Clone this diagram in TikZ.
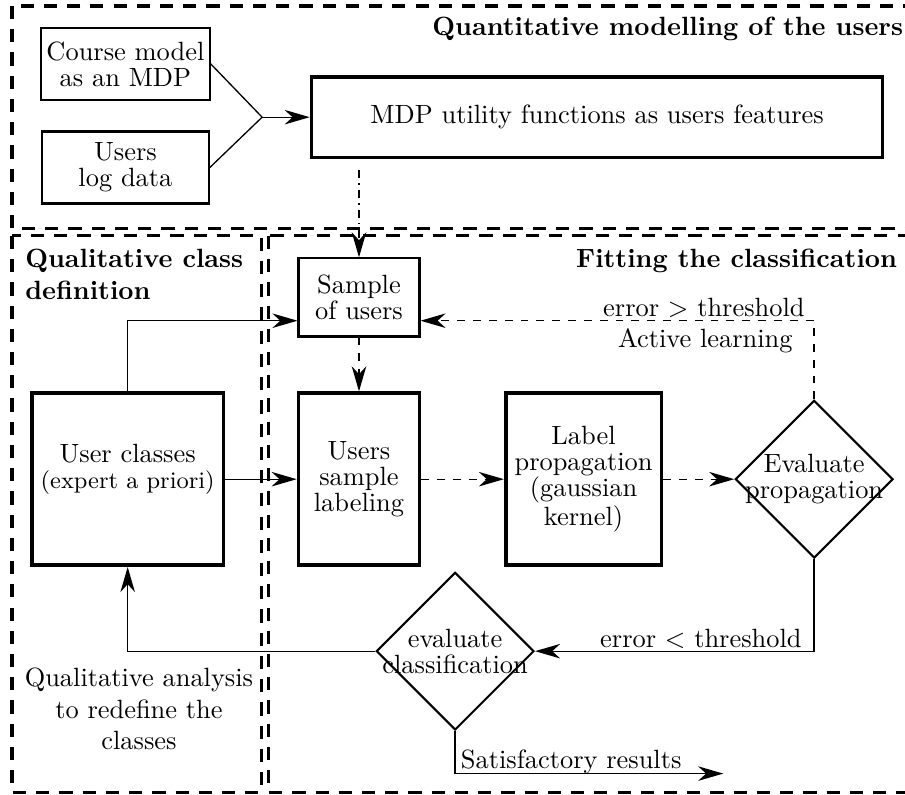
\documentclass[tikz,border=0pt]{standalone}
\usepackage{tikz}
\usetikzlibrary{arrows.meta, positioning, shapes.geometric}
\tikzset{
  region/.style={draw, line width=1.2pt, dash pattern=on 5pt off 3.8pt},
  title/.style={font=\bfseries, inner sep=0pt},
  smallbox/.style={draw, line width=0.8pt, align=center, inner sep=2pt, font=\linespread{0.82}\selectfont},
  bigbox/.style={draw, line width=1.4pt, align=center, minimum height=2.29cm, font=\linespread{0.82}\selectfont},
  decision/.style={draw, diamond, line width=0.8pt, align=center, inner sep=-3.5pt, minimum width=2.1cm, minimum height=2.1cm, font=\linespread{0.82}\selectfont},
  flow/.style={->, line width=0.5pt},
  note/.style={inner sep=0pt}
}

\begin{document}
\begin{tikzpicture}[>={Stealth[length=9.5pt, width=5.5pt, inset=3pt]}]
    \path[use as bounding box, clip] (0,0) rectangle (12.05,-10.58);
    \draw[region] (0.16,-0.08) rectangle (12.5,-3.04);
    \draw[region] (0.16,-3.14) rectangle (3.48,-10.55);
    \draw[region] (3.57,-3.14) rectangle (12.5,-10.55);
    \node[title, anchor=base east] (quanti) at (12.03,-0.47) {Quantitative modelling of the users};
    \node[title, anchor=north west, align=left] (quali) at (0.33,-3.31) {Qualitative class\\definition};
    \node[title, anchor=base east] (fitting) at (11.95,-3.56) {Fitting the classification};

    \node[smallbox, minimum width=2.22cm, minimum height=0.96cm] (course) at (1.67,-0.85) {Course model\\as an MDP};
    \node[smallbox, minimum width=2.22cm, minimum height=0.96cm] (logs) at (1.67,-2.23) {Users\\log data};
    \coordinate (merge) at (3.49,-1.56);
    \node[bigbox, line width=1.2pt, minimum width=7.61cm, minimum height=1.07cm] (mdp) at (7.95,-1.56) {MDP utility functions as users features};
    \node[smallbox, minimum width=1.61cm, minimum height=1.04cm] (sample) at (4.78,-3.96) {Sample\\of users};
    \node[bigbox, minimum width=2.53cm] (classes) at (1.70,-6.38) {User classes\\{\small (expert a priori)}\\ \mbox{}};
    \node[bigbox, minimum width=1.61cm] (labeling) at (4.78,-6.38) {Users\\sample\\labeling};
    \node[bigbox, minimum width=1.94cm] (propag) at (7.77,-6.38) {Label\\propagation\\(gaussian\\kernel)};
    \node[decision] (evalprop) at (10.84,-6.38) {Evaluate\\propagation};
    \node[decision] (evalclass) at (6.06,-8.67) {evaluate\\classification};
    \node[align=center] (analysis) at (1.85,-9.44) {Qualitative analysis\\to redefine the\\classes};
    \coordinate (done) at (9.63,-10.30);

    \draw[line width=0.5pt] (course.east) -- (merge) -- (logs.east);
    \draw[flow] (merge) -- (mdp.west);
    \draw[flow, dashdotted, shorten <=0.15cm] (mdp.south -| sample.north) -- (sample.north);
    \draw[flow] (classes.north) |- ([yshift=-0.31cm]sample.west);
    \draw[flow, dashed] (sample) -- (labeling);
    \draw[flow] (classes) -- (labeling);
    \draw[flow, dashed] (labeling) -- (propag);
    \draw[flow, dashed] (propag) -- (evalprop);
    \draw[flow, dashed] (evalprop.north) |- ([yshift=-0.31cm]sample.east);
    \draw[flow] (evalprop.south) |- (evalclass.east);
    \draw[flow] (evalclass.west) -| (classes.south);
    \draw[flow] (evalclass.south) |- (done);

    \node[note, anchor=base east] (errhigh) at (10.72,-4.22) {error $>$ threshold};
    \node[note, anchor=base east] (active) at (10.56,-4.62) {Active learning};
    \node[note, anchor=base east] (errlow) at (10.68,-8.62) {error $<$ threshold};
    \node[note, anchor=base west] (satisf) at (6.13,-10.23) {Satisfactory results};
\end{tikzpicture}
\end{document}
